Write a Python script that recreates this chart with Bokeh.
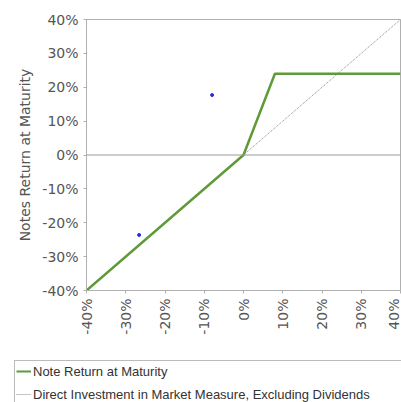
import math
from bokeh.plotting import figure
from bokeh.layouts import column, row
from bokeh.models import Legend, LegendItem, NumeralTickFormatter, FixedTicker, Span, Range1d
from bokeh.embed import file_html
from bokeh.resources import INLINE

# data (fractions)
note_x = [-0.40, 0.00, 0.08, 0.40]
note_y = [-0.40, 0.00, 0.24, 0.24]
direct_x = [-0.40, 0.40]
direct_y = [-0.40, 0.40]
stray_x = [-0.08, -0.266]
stray_y = [0.177, -0.236]
ticks = [-0.4, -0.3, -0.2, -0.1, 0.0, 0.1, 0.2, 0.3, 0.4]
labels = ["Note Return at Maturity", "Direct Investment in Market Measure, Excluding Dividends"]

NOTE_STYLE = dict(line_color="#5f9a38", line_width=2.5)
DIR_STYLE = dict(line_color="#888888", line_width=1, line_dash="1 1")

p = figure(width=401, height=340, output_backend="svg", toolbar_location=None,
           x_range=Range1d(-0.4, 0.4), y_range=Range1d(-0.4, 0.4),
           min_border_left=86, min_border_right=1, min_border_top=19, min_border_bottom=50)
p.outline_line_color = "#b0b0b0"
p.outline_line_width = 1
p.xgrid.visible = False
p.ygrid.visible = False

p.add_layout(Span(location=0, dimension="width", line_color="#999999", line_width=1))

p.line(direct_x, direct_y, **DIR_STYLE)
p.line(note_x, note_y, **NOTE_STYLE)
p.scatter(stray_x, stray_y, size=3, color="#2a2ae0")

for ax in (p.xaxis[0], p.yaxis[0]):
    ax.ticker = FixedTicker(ticks=ticks)
    ax.formatter = NumeralTickFormatter(format="0%")
    ax.major_label_text_font = "DejaVu Sans"
    ax.major_label_text_font_size = "14px"
    ax.major_label_text_color = "#555555"
    ax.axis_line_color = "#b0b0b0"
    ax.major_tick_line_color = "#b0b0b0"
    ax.major_tick_in = 0
    ax.major_tick_out = 3
    ax.minor_tick_line_color = None

p.xaxis.major_label_orientation = math.pi / 2
p.yaxis.axis_label = "Notes Return at Maturity"
p.yaxis.axis_label_text_font = "DejaVu Sans"
p.yaxis.axis_label_text_font_size = "14px"
p.yaxis.axis_label_text_font_style = "normal"
p.yaxis.axis_label_text_color = "#555555"
p.yaxis.axis_label_standoff = 6

# legend strip below the chart
q = figure(width=401, height=62, output_backend="svg", toolbar_location=None,
           x_axis_location=None, y_axis_location=None,
           min_border_left=0, min_border_right=0, min_border_top=0, min_border_bottom=0,
           x_range=Range1d(-0.4, 0.4), y_range=Range1d(-0.4, 0.4))
q.outline_line_color = None
q.xgrid.visible = False
q.ygrid.visible = False
l_note = q.line(note_x, note_y, visible=False, line_color="#5f9a38", line_width=2)
l_dir = q.line(direct_x, direct_y, visible=False, **DIR_STYLE)

legend = Legend(items=[LegendItem(label=labels[0], renderers=[l_note]),
                       LegendItem(label=labels[1], renderers=[l_dir])],
                location=(14, -3))
legend.label_text_font = "Liberation Sans"
legend.label_text_font_size = "13px"
legend.label_text_color = "#333333"
legend.label_height = 18
legend.label_standoff = 2
legend.label_width = 380
legend.glyph_width = 15
legend.glyph_height = 18
legend.spacing = 5
legend.padding = 1
legend.margin = 0
legend.border_line_color = "#777777"
legend.border_line_width = 1
legend.background_fill_alpha = 0
q.add_layout(legend, "center")

layout = column(p, row(q), spacing=0)
open("out.html", "w").write(file_html(layout, INLINE))
